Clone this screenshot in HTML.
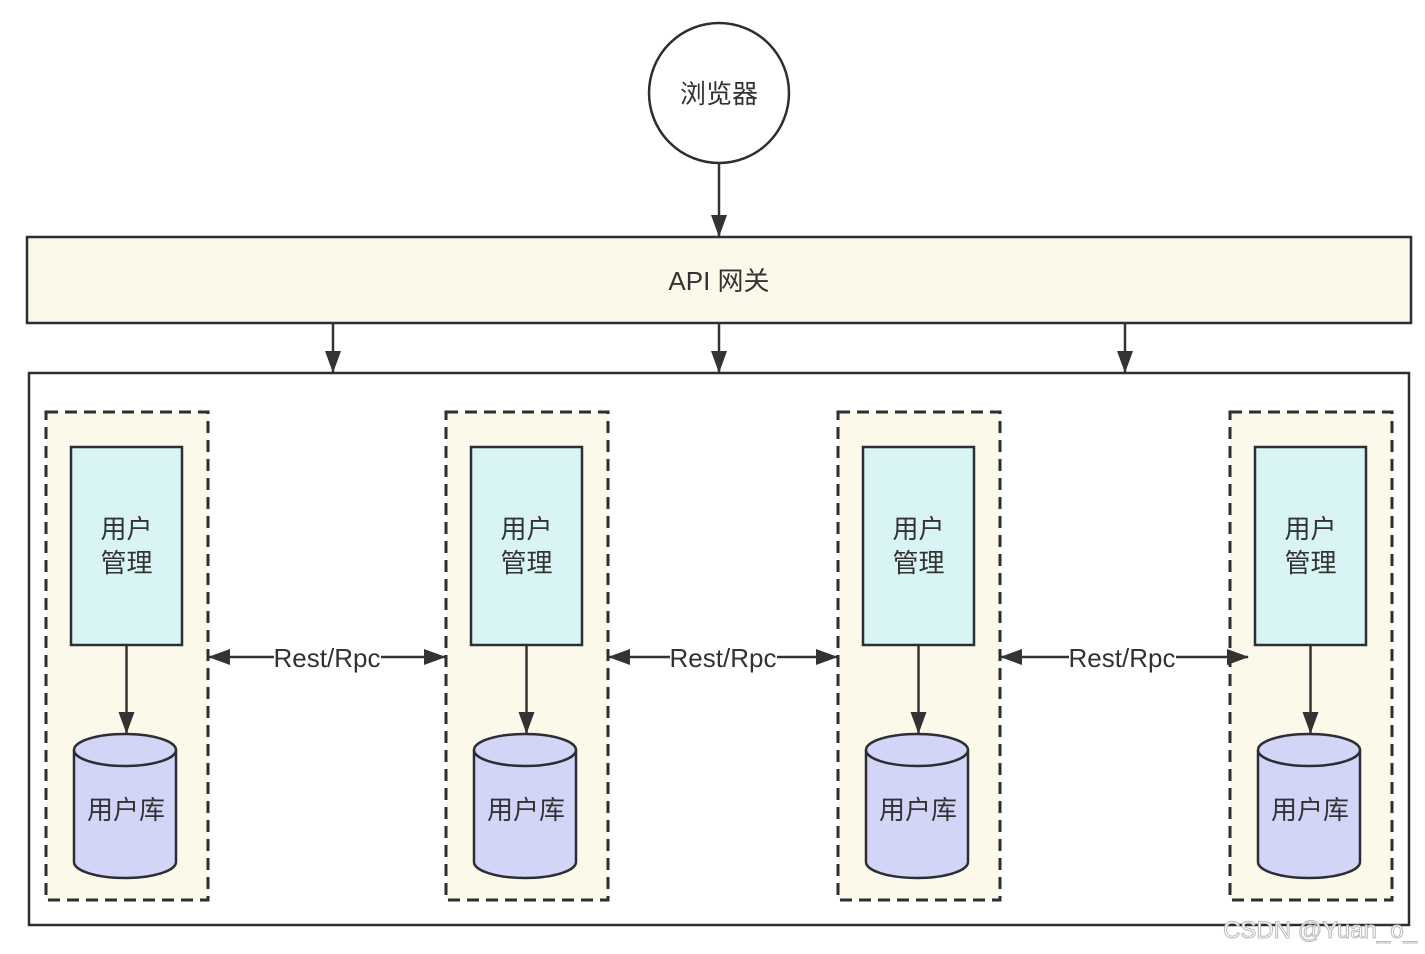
<!DOCTYPE html>
<html><head><meta charset="utf-8">
<style>
html,body{margin:0;padding:0;background:#fff;}
svg{display:block;}
text{font-family:"Liberation Sans","Noto Sans CJK SC",sans-serif;fill:#333;}
</style></head>
<body>
<svg width="1425" height="954" viewBox="0 0 1425 954" xmlns="http://www.w3.org/2000/svg">
<defs>
<marker id="a" markerWidth="22" markerHeight="16" refX="21" refY="8" orient="auto" markerUnits="userSpaceOnUse">
<path d="M0,0 L22,8 L0,16 Z" fill="#333"/>
</marker>
</defs>
<rect width="1425" height="954" fill="#fff"/>
<circle cx="719" cy="93" r="70" fill="#fff" stroke="#2a2f33" stroke-width="2.5"/>
<text x="719" y="103" font-size="26" text-anchor="middle">浏览器</text>
<line x1="719" y1="163" x2="719" y2="236" stroke="#333" stroke-width="2.5" marker-end="url(#a)"/>
<rect x="27" y="237" width="1384" height="86" fill="#fcf9ea" stroke="#2a2f33" stroke-width="2.5"/>
<text x="719" y="290" font-size="26" text-anchor="middle">API 网关</text>
<line x1="333" y1="323" x2="333" y2="372" stroke="#333" stroke-width="2.5" marker-end="url(#a)"/>
<line x1="719" y1="323" x2="719" y2="372" stroke="#333" stroke-width="2.5" marker-end="url(#a)"/>
<line x1="1125" y1="323" x2="1125" y2="372" stroke="#333" stroke-width="2.5" marker-end="url(#a)"/>
<rect x="29" y="373" width="1380" height="552" fill="#fff" stroke="#2a2f33" stroke-width="2.5"/>

<g id="svc">
<rect x="46" y="412" width="162" height="488" fill="#fcf9ea" stroke="#2a2f33" stroke-width="3" stroke-dasharray="12,7"/>
<rect x="71" y="447" width="111" height="198" fill="#d9f4f4" stroke="#2a2f33" stroke-width="2.5"/>
<text x="126.5" y="538" font-size="26" text-anchor="middle">用户</text>
<text x="126.5" y="572" font-size="26" text-anchor="middle">管理</text>
<line x1="126.5" y1="645" x2="126.5" y2="733" stroke="#333" stroke-width="2.5" marker-end="url(#a)"/>
<path d="M74,750 L74,862 A51,16 0 0 0 176,862 L176,750 A51,16 0 0 0 74,750 Z" fill="#d3d5f7" stroke="#2a2f33" stroke-width="2.5"/>
<path d="M74,750 A51,16 0 0 0 176,750" fill="none" stroke="#2a2f33" stroke-width="2.5"/>
<text x="126" y="819" font-size="26" text-anchor="middle">用户库</text>
</g>
<use href="#svc" x="400"/>
<use href="#svc" x="792"/>
<use href="#svc" x="1184"/>

<g stroke="#333" stroke-width="2.5">
<line x1="274" y1="657" x2="209" y2="657" marker-end="url(#a)"/>
<line x1="381" y1="657" x2="445" y2="657" marker-end="url(#a)"/>
<line x1="670" y1="657" x2="609" y2="657" marker-end="url(#a)"/>
<line x1="777" y1="657" x2="837" y2="657" marker-end="url(#a)"/>
<line x1="1069" y1="657" x2="1001" y2="657" marker-end="url(#a)"/>
<line x1="1176" y1="657" x2="1248" y2="657" marker-end="url(#a)"/>
</g>
<text x="327" y="667" font-size="26" text-anchor="middle">Rest/Rpc</text>
<text x="723" y="667" font-size="26" text-anchor="middle">Rest/Rpc</text>
<text x="1122" y="667" font-size="26" text-anchor="middle">Rest/Rpc</text>

<text x="1320" y="938" font-size="24" text-anchor="middle" style="fill:#fff;stroke:#bbb;stroke-width:1">CSDN @Yuan_o_</text>
</svg>
</body></html>
